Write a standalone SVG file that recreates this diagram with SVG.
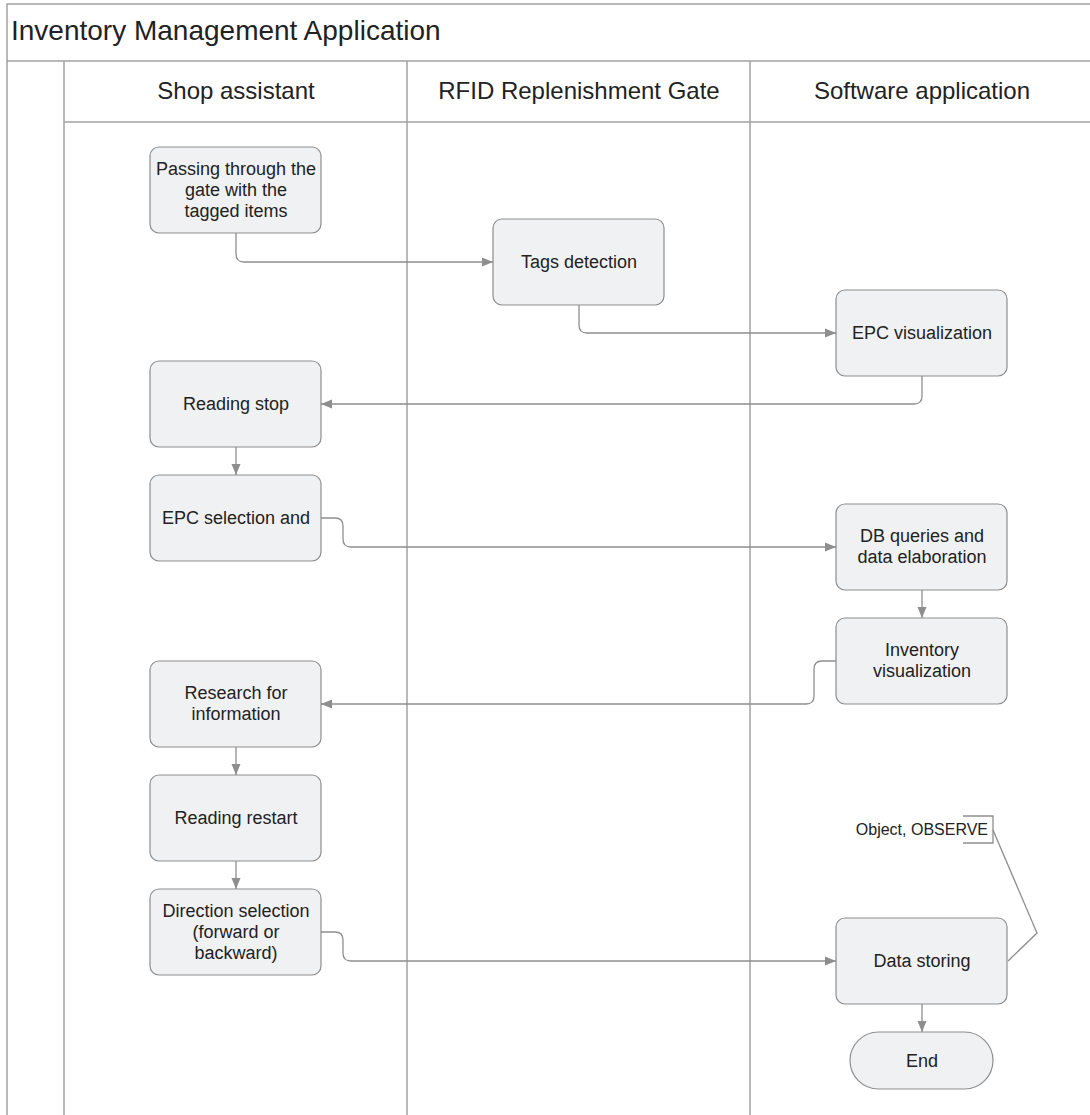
<svg xmlns="http://www.w3.org/2000/svg" width="1090" height="1115" viewBox="0 0 1090 1115">
  <style>
    .frame { fill: none; stroke: #a3a3a3; stroke-width: 1.5; }
    .node rect { fill: #f0f1f3; stroke: #8e8e8e; stroke-width: 1.2; }
    .label { font-family: "Liberation Sans", Arial, sans-serif; font-size: 18px; fill: #222; text-anchor: middle; }
    .title { font-family: "Liberation Sans", Arial, sans-serif; font-size: 28px; fill: #222; }
    .lane { font-family: "Liberation Sans", Arial, sans-serif; font-size: 24px; fill: #222; text-anchor: middle; }
    .note { font-family: "Liberation Sans", Arial, sans-serif; font-size: 16px; fill: #222; text-anchor: end; }
    .edge { fill: none; stroke: #8e8e8e; stroke-width: 1.3; }
    .arrow { fill: none; stroke: #8e8e8e; stroke-width: 1.3; marker-end: url(#head); }
  </style>
  <defs>
    <marker id="head" markerUnits="userSpaceOnUse" markerWidth="12" markerHeight="12" viewBox="0 0 12 12" refX="11" refY="6" orient="auto">
      <path d="M0 1.5 L11 6 L0 10.5 Z" fill="#8e8e8e"/>
    </marker>
  </defs>
  <rect width="1090" height="1115" fill="#ffffff"/>

  <!-- pool and swimlanes -->
  <g id="pool">
    <path class="frame" d="M7 1115 V4 H1090 M7 61 H1090 M64 61 V1115 M64 122 H1090 M407 61 V1115 M750 61 V1115"/>
    <text class="title" x="11" y="40">Inventory Management Application</text>
    <text class="lane" x="236" y="99">Shop assistant</text>
    <text class="lane" x="579" y="99">RFID Replenishment Gate</text>
    <text class="lane" x="922" y="99">Software application</text>
  </g>

  <!-- connectors -->
  <g id="connectors">
    <path class="arrow" d="M236 233 V254 Q236 262 244 262 H493"/>
    <path class="arrow" d="M579 304 V325 Q579 333 587 333 H836"/>
    <path class="arrow" d="M922 376 V396 Q922 404 914 404 H321"/>
    <path class="arrow" d="M236 447 V475"/>
    <path class="arrow" d="M321 518 H335 Q343 518 343 526 V539 Q343 547 351 547 H836"/>
    <path class="arrow" d="M922 590 V618"/>
    <path class="arrow" d="M836 661 H822 Q814 661 814 669 V696 Q814 704 806 704 H321"/>
    <path class="arrow" d="M236 747 V775"/>
    <path class="arrow" d="M236 861 V889"/>
    <path class="arrow" d="M321 932 H335 Q343 932 343 940 V953 Q343 961 351 961 H836"/>
    <path class="arrow" d="M922 1004 V1032"/>
    <path class="edge" d="M993 830 L1037 933 L1008 961"/>
  </g>

  <!-- activities -->
  <g id="n1" class="node">
    <rect x="150" y="147" width="171" height="86" rx="9"/>
    <text class="label" x="236" y="175">Passing through the</text>
    <text class="label" x="236" y="196">gate with the</text>
    <text class="label" x="236" y="217">tagged items</text>
  </g>
  <g id="n2" class="node">
    <rect x="493" y="219" width="171" height="86" rx="9"/>
    <text class="label" x="579" y="268">Tags detection</text>
  </g>
  <g id="n3" class="node">
    <rect x="836" y="290" width="171" height="86" rx="9"/>
    <text class="label" x="922" y="339">EPC visualization</text>
  </g>
  <g id="n4" class="node">
    <rect x="150" y="361" width="171" height="86" rx="9"/>
    <text class="label" x="236" y="410">Reading stop</text>
  </g>
  <g id="n5" class="node">
    <rect x="150" y="475" width="171" height="86" rx="9"/>
    <text class="label" x="236" y="524">EPC selection and</text>
  </g>
  <g id="n6" class="node">
    <rect x="836" y="504" width="171" height="86" rx="9"/>
    <text class="label" x="922" y="542">DB queries and</text>
    <text class="label" x="922" y="563">data elaboration</text>
  </g>
  <g id="n7" class="node">
    <rect x="836" y="618" width="171" height="86" rx="9"/>
    <text class="label" x="922" y="656">Inventory</text>
    <text class="label" x="922" y="677">visualization</text>
  </g>
  <g id="n8" class="node">
    <rect x="150" y="661" width="171" height="86" rx="9"/>
    <text class="label" x="236" y="699">Research for</text>
    <text class="label" x="236" y="720">information</text>
  </g>
  <g id="n9" class="node">
    <rect x="150" y="775" width="171" height="86" rx="9"/>
    <text class="label" x="236" y="824">Reading restart</text>
  </g>
  <g id="n10" class="node">
    <rect x="150" y="889" width="171" height="86" rx="9"/>
    <text class="label" x="236" y="917">Direction selection</text>
    <text class="label" x="236" y="938">(forward or</text>
    <text class="label" x="236" y="959">backward)</text>
  </g>
  <g id="n11" class="node">
    <rect x="836" y="918" width="171" height="86" rx="9"/>
    <text class="label" x="922" y="967">Data storing</text>
  </g>
  <g id="end" class="node">
    <rect x="850" y="1032" width="143" height="57" rx="28.5"/>
    <text class="label" x="922" y="1067">End</text>
  </g>

  <!-- annotation -->
  <g id="note">
    <path class="edge" d="M963 816 H993 V843 H963"/>
    <text class="note" x="988" y="835">Object, OBSERVE</text>
  </g>
</svg>
